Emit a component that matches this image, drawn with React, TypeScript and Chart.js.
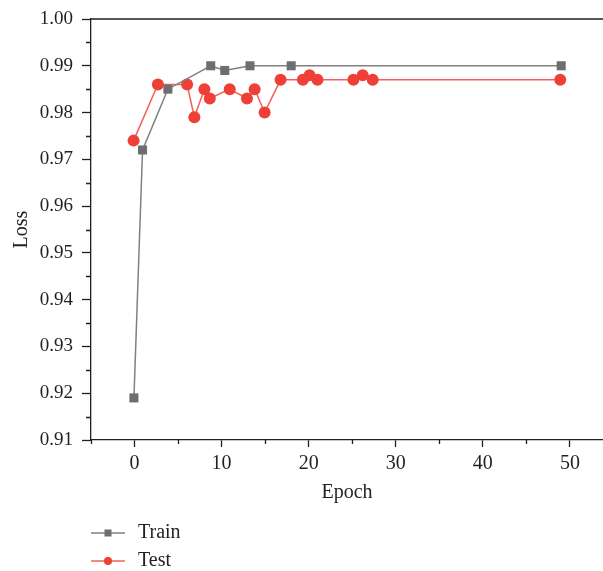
import React, { useEffect, useRef } from "react";
import { Chart, registerables } from "chart.js";

Chart.register(...registerables);

const trainEpochs = [-0.07, 0.92, 3.83, 8.75, 10.36, 13.26, 17.99, 49.0];
const trainValues = [0.919, 0.972, 0.985, 0.99, 0.989, 0.99, 0.99, 0.99];

const testEpochs = [-0.11, 2.68, 6.04, 6.87, 8.02, 8.64, 10.93, 12.91, 13.79, 14.94, 16.77, 19.33, 20.1, 21.01, 25.14, 26.2, 27.35, 48.89];
const testValues = [0.974, 0.986, 0.986, 0.979, 0.985, 0.983, 0.985, 0.983, 0.985, 0.98, 0.987, 0.987, 0.988, 0.987, 0.987, 0.988, 0.987, 0.987];

const xTicks = [0, 10, 20, 30, 40, 50];
const xMinorTicks = [-5, 5, 15, 25, 35, 45];
const yTicks = [0.91, 0.92, 0.93, 0.94, 0.95, 0.96, 0.97, 0.98, 0.99, 1.0];
const yMinorTicks = [0.915, 0.925, 0.935, 0.945, 0.955, 0.965, 0.975, 0.985, 0.995];

const seriesNames = ["Train", "Test"];
const xTitle = "Epoch";
const yTitle = "Loss";

const FONT = "'Liberation Serif', 'Times New Roman', serif";
const INK = "#231f20";
const TRAIN_COLOR = "#6d6e71";
const TRAIN_LINE = "#808080";
const TEST_COLOR = "#ee4036";
const TEST_LINE = "#f26058";

const decorPlugin = {
  id: "decor",
  afterDraw(chart: any) {
    const { ctx, chartArea, scales } = chart;
    ctx.save();
    ctx.strokeStyle = INK;
    ctx.lineWidth = 1.3;
    ctx.beginPath();
    // top frame line
    ctx.moveTo(chartArea.left, chartArea.top);
    ctx.lineTo(chartArea.right, chartArea.top);
    // minor ticks
    yMinorTicks.forEach((v) => {
      const y = Math.round(scales.y.getPixelForValue(v)) + 0.5;
      ctx.moveTo(chartArea.left - 5, y);
      ctx.lineTo(chartArea.left, y);
    });
    xMinorTicks.forEach((v) => {
      const x = Math.round(scales.x.getPixelForValue(v)) + 0.5;
      ctx.moveTo(x, chartArea.bottom);
      ctx.lineTo(x, chartArea.bottom + 4);
    });
    ctx.stroke();

    // legend
    const lx = chartArea.left;
    const rows = [
      { y: 533, line: TRAIN_LINE, fill: TRAIN_COLOR, shape: "rect" },
      { y: 561, line: TEST_LINE, fill: TEST_COLOR, shape: "circle" },
    ];
    rows.forEach((r, i) => {
      ctx.strokeStyle = r.line;
      ctx.lineWidth = 1.5;
      ctx.beginPath();
      ctx.moveTo(lx, r.y);
      ctx.lineTo(lx + 34, r.y);
      ctx.stroke();
      ctx.fillStyle = r.fill;
      ctx.beginPath();
      if (r.shape === "rect") {
        ctx.rect(lx + 17 - 3.5, r.y - 3.5, 7, 7);
      } else {
        ctx.arc(lx + 17, r.y, 4, 0, Math.PI * 2);
      }
      ctx.fill();
      ctx.fillStyle = INK;
      ctx.font = `20px ${FONT}`;
      ctx.textBaseline = "middle";
      ctx.textAlign = "left";
      ctx.fillText(seriesNames[i], lx + 47, r.y);
    });
    ctx.restore();
  },
};

export default function App() {
  const ref = useRef<HTMLCanvasElement | null>(null);

  useEffect(() => {
    if (!ref.current) return;
    const chart = new Chart(ref.current, {
      type: "line",
      data: {
        datasets: [
          {
            label: seriesNames[0],
            data: trainEpochs.map((x, i) => ({ x, y: trainValues[i] })),
            borderColor: TRAIN_LINE,
            backgroundColor: TRAIN_COLOR,
            pointBackgroundColor: TRAIN_COLOR,
            pointBorderColor: TRAIN_COLOR,
            pointStyle: "rect",
            pointRadius: 6.4,
            pointBorderWidth: 0,
            borderWidth: 1.5,
            tension: 0,
          },
          {
            label: seriesNames[1],
            data: testEpochs.map((x, i) => ({ x, y: testValues[i] })),
            borderColor: TEST_LINE,
            backgroundColor: TEST_COLOR,
            pointBackgroundColor: TEST_COLOR,
            pointBorderColor: TEST_COLOR,
            pointStyle: "circle",
            pointRadius: 6,
            pointBorderWidth: 0,
            borderWidth: 1.5,
            tension: 0,
          },
        ],
      },
      options: {
        animation: false,
        responsive: false,
        devicePixelRatio: 1,
        layout: { autoPadding: false, padding: { top: 19, right: 0, left: 0, bottom: 61 } },
        plugins: {
          legend: { display: false },
          tooltip: { enabled: false },
        },
        scales: {
          x: {
            type: "linear",
            min: -5,
            max: 53.8,
            afterBuildTicks: (s: any) => {
              s.ticks = xTicks.map((v) => ({ value: v }));
            },
            afterFit: (s: any) => {
              s.height = 70;
              s.paddingLeft = 0;
              s.paddingRight = 0;
            },
            grid: {
              display: true,
              drawOnChartArea: false,
              drawTicks: true,
              tickLength: 7,
              tickColor: INK,
              tickWidth: 1.3,
            },
            border: { display: true, color: INK, width: 1.3 },
            ticks: {
              color: INK,
              font: { family: FONT, size: 20 },
              padding: 5,
              maxRotation: 0,
              callback: (v: any) => String(v),
            },
            title: {
              display: true,
              text: xTitle,
              color: INK,
              font: { family: FONT, size: 20 },
              padding: { top: 0, bottom: 5 },
            },
          },
          y: {
            type: "linear",
            min: 0.91,
            max: 1.0,
            afterBuildTicks: (s: any) => {
              s.ticks = yTicks.map((v) => ({ value: v }));
            },
            afterFit: (s: any) => {
              s.width = 91;
              s.paddingTop = 0;
              s.paddingBottom = 0;
            },
            grid: {
              display: true,
              drawOnChartArea: false,
              drawTicks: true,
              tickLength: 9,
              tickColor: INK,
              tickWidth: 1.3,
            },
            border: { display: true, color: INK, width: 1.3 },
            ticks: {
              color: INK,
              font: { family: FONT, size: 19 },
              padding: 9,
              callback: (v: any) => Number(v).toFixed(2),
            },
            title: {
              display: true,
              text: yTitle,
              color: INK,
              font: { family: FONT, size: 20 },
              padding: { top: 10, bottom: 0 },
            },
          },
        },
      },
      plugins: [decorPlugin],
    });
    return () => chart.destroy();
  }, []);

  return (
    <div style={{ position: "fixed", left: 0, top: 0, width: 603, height: 571, background: "#fff" }}>
      <canvas ref={ref} width={603} height={571} style={{ display: "block" }} />
    </div>
  );
}
